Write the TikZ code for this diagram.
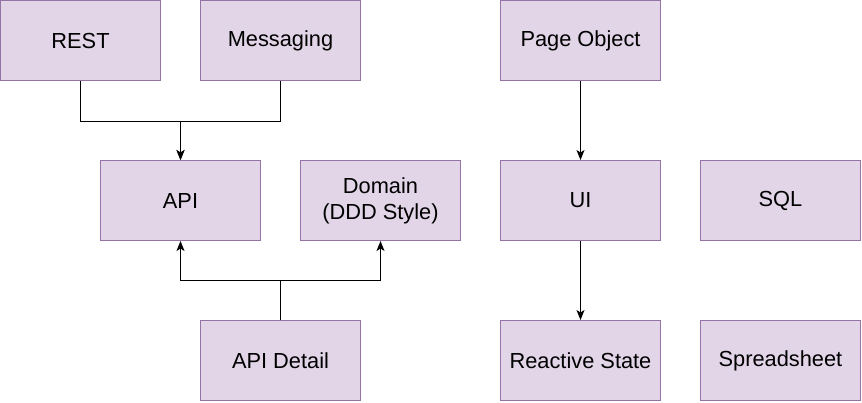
\documentclass[tikz,border=0pt]{standalone}
\usepackage{fontspec}
\setmainfont{Liberation Sans}
\usetikzlibrary{arrows.meta}
\definecolor{boxfill}{HTML}{E1D5E7}
\definecolor{boxline}{HTML}{9673A6}
\begin{document}
\begin{tikzpicture}[x=1pt,y=-1pt,
  box/.style={draw=boxline,fill=boxfill,line width=1pt,minimum width=160pt,minimum height=80pt,inner sep=0pt,align=center,font=\fontsize{21.8}{26}\selectfont},
  arr/.style={draw=black,line width=1pt,-{Stealth[length=10pt,width=8pt,inset=2.5pt]}},
  ln/.style={draw=black,line width=1pt}]
\useasboundingbox (0,0) rectangle (862,402);
\node[box] (rest) at (80.5,40.5) {REST};
\node[box] (msg) at (280.5,40.5) {Messaging};
\node[box] (page) at (580.5,40.5) {Page Object};
\node[box] (api) at (180.5,200.5) {API};
\node[box] (domain) at (380.5,200.5) {Domain\\(DDD Style)};
\node[box] (ui) at (580.5,200.5) {UI};
\node[box] (sql) at (780.5,200.5) {SQL};
\node[box] (detail) at (280.5,360.5) {API Detail};
\node[box] (state) at (580.5,360.5) {Reactive State};
\node[box] (sheet) at (780.5,360.5) {Spreadsheet};
\draw[arr] (rest.south) -- ++(0,40) -| (api.north);
\draw[arr] (msg.south) -- ++(0,40) -| (api.north);
\draw[arr] (detail.north) -- ++(0,-40) -| (api.south);
\draw[arr] (detail.north) -- ++(0,-40) -| (domain.south);
\draw[arr] (page.south) -- (ui.north);
\draw[arr] (ui.south) -- (state.north);
\end{tikzpicture}
\end{document}
